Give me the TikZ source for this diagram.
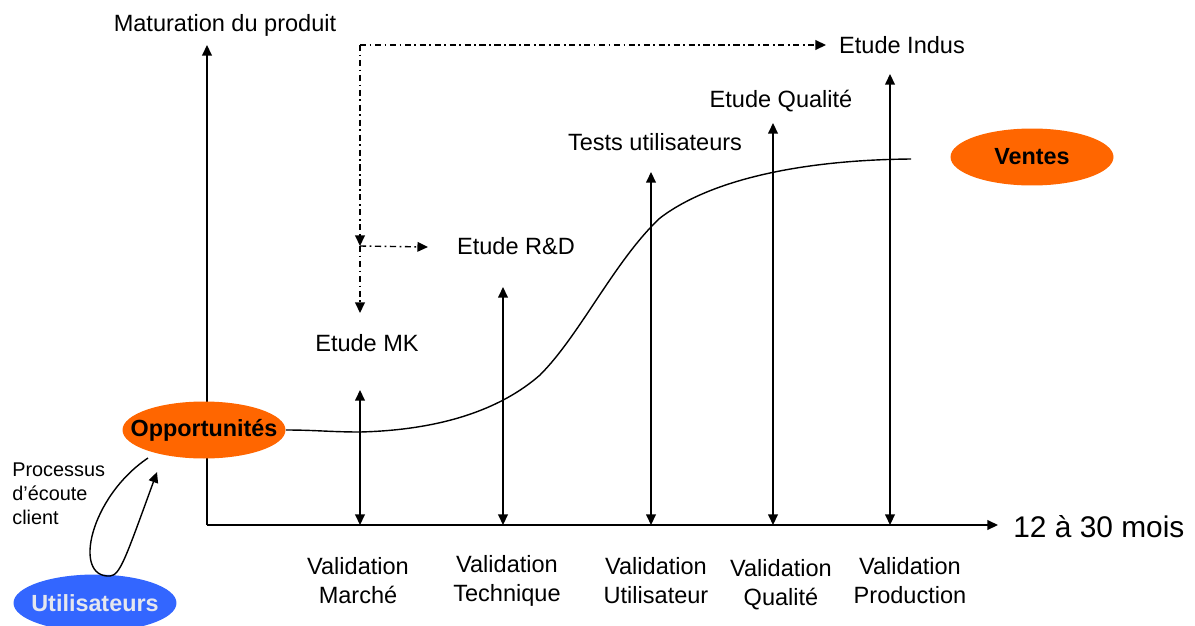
\documentclass[tikz,border=0pt]{standalone}
\usepackage{fontspec}
\setmainfont{Liberation Sans}
\usetikzlibrary{arrows.meta,positioning,shapes.geometric}
\definecolor{orangeop}{HTML}{FF6600}
\definecolor{bleuut}{HTML}{3366FF}
\definecolor{grisclair}{HTML}{E4E6EE}
\newcommand{\ovaltext}[1]{\makebox[0pt][c]{#1}}
\tikzset{
    mytip/.tip={Triangle[length=6pt,width=5.5pt]},
    myaxis/.style={line width=0.8pt,-mytip},
    myval/.style={line width=0.8pt,mytip-mytip},
    mydash/.style={line width=0.8pt,dash pattern=on 3.5pt off 2pt on 1pt off 2pt,-mytip},
    myellipse/.style={ellipse,fill=orangeop,inner sep=0pt,minimum width=3.26cm,minimum height=1.14cm,font=\bfseries\fontsize{13.3}{15}\selectfont},
    mylabel/.style={inner sep=0pt,font=\fontsize{13.4}{16}\selectfont},
    myvalid/.style={inner sep=0pt,align=center,font=\fontsize{13.4}{16.5}\selectfont}
}

\begin{document}
\begin{tikzpicture}[x=0.02cm,y=-0.02cm]
  \useasboundingbox (0,0) rectangle (1195,625);
  % axes
  \coordinate (O) at (207,525);
  \coordinate (ytip) at (207,45);
  \coordinate (xtip) at (998,525);
  \draw[myaxis] (O) -- (ytip);
  \draw[myaxis] (O) -- (xtip);
  \node[mylabel] (ylab) at (225,25) {Maturation du produit};
  \node[inner sep=0pt,anchor=west,font=\fontsize{17}{20}\selectfont] (xlab) at (1013,527) {12 à 30 mois};

  % validations
  \foreach \i/\x/\t in {1/360/390,2/503/287,3/651/172,4/773/123,5/890/74}{
    \coordinate (bot\i) at (\x,525);
    \coordinate (top\i) at (\x,\t);
    \draw[myval] (bot\i) -- (top\i);
  }
  \node[mylabel] (mk) at (367,343) {Etude MK};
  \node[mylabel] (rd) at (516,246) {Etude R\&D};
  \node[mylabel] (tests) at (655,142) {Tests utilisateurs};
  \node[mylabel] (qual) at (781,101) {Etude Qualité};
  \node[mylabel] (indus) at (902,45) {Etude Indus};
  \node[myvalid] (vmarche) at (358,581) {Validation\\Marché};
  \node[myvalid] (vtech) at (507,581) {Validation\\Technique};
  \node[myvalid] (vutil) at (656,581) {Validation\\Utilisateur};
  \node[myvalid] (vqual) at (781,585) {Validation\\Qualité};
  \node[myvalid] (vprod) at (910,581) {Validation\\Production};

  % etudes en pointille
  \coordinate (dcorner) at (360,45);
  \coordinate (dindus) at (826,45);
  \coordinate (dmid) at (360,246);
  \coordinate (drd) at (428,247);
  \coordinate (dmk) at (360,313);
  \draw[mydash] (dcorner) -- (dindus);
  \draw[mydash] (dcorner) -- (dmid);
  \draw[mydash] (dmid) -- (dmk);
  \draw[mydash] (dmid) -- (drd);

  % ellipses
  \node[myellipse] (opp) at (204,430) {\ovaltext{Opportunités}};
  \node[myellipse] (ventes) at (1032,157) {\ovaltext{Ventes}};
  \node[myellipse,fill=bleuut,text=grisclair] (users) at (95,603) {\ovaltext{Utilisateurs}};

  % courbe de maturation
  \coordinate (cend) at (911,159);
  \draw[line width=0.8pt] (opp.east) to[out=0,in=180] (360,432)
    .. controls (440,430) and (500,410) .. (540,375)
    .. controls (580,335) and (615,260) .. (660,218)
    .. controls (710,180) and (800,160) .. (cend);

  % boucle d'ecoute
  \coordinate (loopA) at (148,458);
  \coordinate (loopB) at (157,472);
  \draw[line width=0.8pt,-mytip] (loopA) .. controls (90,497) and (72,578) .. (110,576)
    .. controls (120,575) and (125,560) .. (loopB);
  \node[inner sep=0pt,anchor=north west,align=left,font=\fontsize{11.3}{13.9}\selectfont] (proc) at (12,462) {Processus\\d’écoute\\client};
\end{tikzpicture}
\end{document}
